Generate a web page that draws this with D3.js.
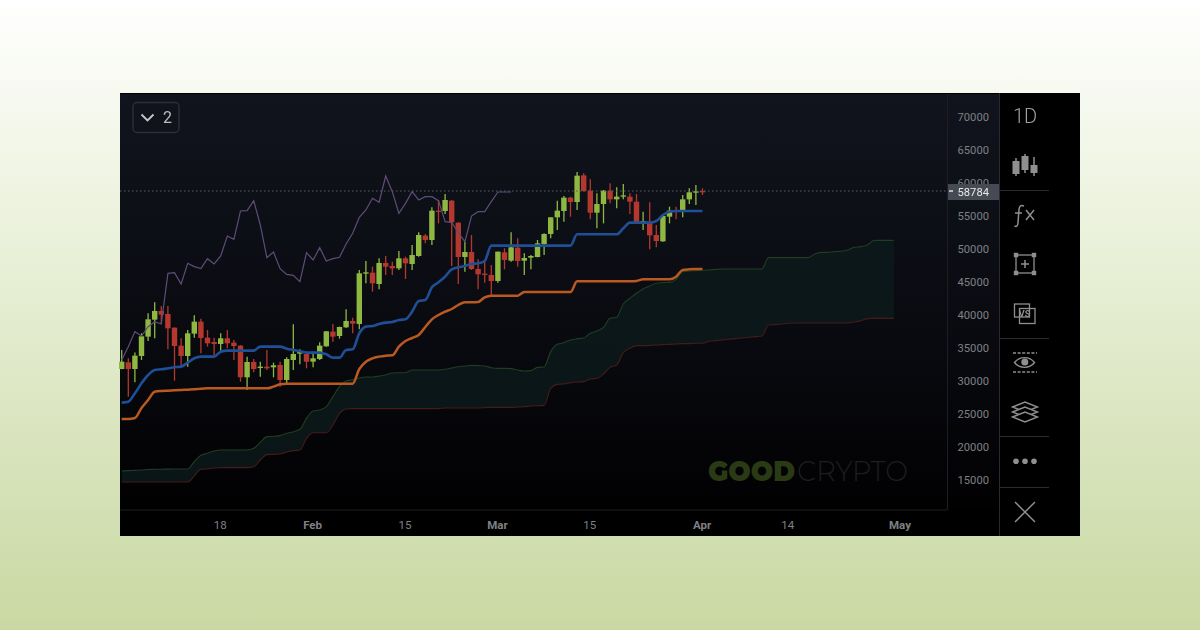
<!DOCTYPE html>
<html><head><meta charset="utf-8">
<script src="https://cdn.jsdelivr.net/npm/d3@7/dist/d3.min.js"></script>
<style>
html,body{margin:0;padding:0;width:1200px;height:630px;overflow:hidden;background:linear-gradient(#ffffff 0%,#e9f0d8 40%,#c9d8a3 100%)}
svg{position:absolute;left:0;top:0;font-family:Roboto,sans-serif;filter:blur(.45px)}
</style></head><body>
<svg id="c" width="1200" height="630"></svg>
<script>
const startDate = "2021-01-03";
const opens = [31820,32830,31820,33790,36720,39295,40610,40155,38080,35355,33790,37175,38990,36570,35910,35610,36470,35810,35355,30560,32880,31970,32175,32075,32430,30155,33185,34145,34090,32930,33335,35255,37480,36820,38135,39095,38640,46265,46415,44700,47880,47425,47070,48585,47730,48940,52020,51365,55810,55760,57325,53990,48790,49545,46970,46265,46065,45155,49495,48235,50205,48235,48690,48790,50760,52275,54800,55760,57780,57120,61160,58840,55505,56820,58840,57525,57930,57930,57170,53990,54140,52120,51160,54900,55810,55810,57525,58535,58790];
const closes = [32930,31820,33840,36770,39345,40610,40050,37980,35305,33790,37225,38990,36520,35710,35610,36470,35710,35305,30560,32880,31820,32175,31920,32375,30155,33335,34090,34400,32930,33440,35355,37530,36720,38185,39095,38690,46315,46465,44800,47880,47325,47070,48585,47830,49090,52120,51365,55810,55655,57425,54040,48790,49545,46970,46165,46165,45155,49600,48335,50255,48185,48635,48940,50860,52275,54800,55810,57780,57120,61110,58790,55505,56820,58840,57525,57930,58130,57170,54040,54245,52070,51210,55000,55810,55710,57525,58585,58740,58585];
const highs = [34700,33440,34300,37220,40255,41920,41365,41365,38130,36470,37730,39950,39450,37730,36570,37225,37730,36215,35455,33690,33335,32930,34700,32780,32930,33590,38590,34800,34400,34450,35860,37580,38640,38235,40860,39600,46820,48185,47325,48590,48940,48080,49700,48840,50610,52525,52275,56315,57425,58335,57425,54040,51110,52120,48435,48080,47575,49600,50100,52525,51620,49345,49090,51365,52375,54800,57325,58030,57930,61665,61465,60555,58435,58940,59950,59345,59850,58435,58335,55655,57070,53635,55000,56415,56415,58180,59190,59700,59190];
const lows = [31770,27630,29800,33185,36060,36470,38740,34800,30050,32325,32175,36570,34195,35205,33890,34600,34950,33185,29900,28640,31315,30660,31670,30560,29145,29650,31670,32530,31920,32075,33185,35205,35960,36420,38035,37225,37830,44800,43535,43890,46060,46060,46820,45455,46820,48840,50860,50610,53890,55305,47425,44700,46565,46820,43890,44900,43030,44900,46920,48080,47325,46065,46920,48740,49090,51620,52880,54140,54900,55910,58690,54495,53130,53890,56920,56160,57525,55305,53990,52880,49950,50255,51110,53890,54495,54800,56820,56670,58180];
const tenkan = [26720,26870,28135,29650,30910,31670,31770,31920,32075,32175,32780,33440,33690,33690,33690,34450,34600,34600,34600,34600,34600,35205,35205,35205,35205,34900,34700,34500,34300,34300,34300,34045,33540,33540,34700,34800,37225,38235,38335,38640,38840,38940,39245,39345,40510,42125,42275,44195,44950,45810,46920,47225,47425,47730,47830,48185,50505,50505,50505,50505,50505,50505,50505,50505,50505,50505,50505,50505,50505,52225,52225,52225,52225,52225,52225,52225,53130,53990,53990,53990,53990,54245,55150,55655,55760,55760,55760,55760,55760];
const kijun = [24240,24240,24390,25910,27120,28380,28490,28540,28590,28640,28690,28740,28840,28890,28890,28890,28890,28890,28890,28890,28890,28890,28890,29145,29500,29600,29600,29600,29600,29600,29600,29600,29600,29600,29600,29600,31820,32930,33440,33690,33840,33890,35205,36060,36515,36970,38180,39345,40000,40510,40910,41515,41920,41920,41970,42680,42930,42930,42930,42930,42930,43485,43485,43485,43485,43485,43485,43485,43485,45100,45100,45100,45100,45100,45100,45100,45100,45100,45150,45405,45405,45405,45405,45405,45810,46820,46920,46970,46970];
const chikou = [33185,35205,37480,36820,38235,38990,38640,46315,46415,44700,47830,47325,47020,48535,47730,48940,51970,51465,55760,55810,57325,53640,48690,49545,47020,46160,46010,45050,49445,48335,50205,48185,48535,48740,50760,52375,54800,55910,57680,57070,61060,58690,55405,56920,58690,57425,57930,57930,57325,54140,54040,52475,51110,54999,55655,55655,57170,58640,58640,58640];
const spanA = [16365,16415,16465,16515,16600,16620,16640,16650,16660,16670,16670,17780,18740,19040,19395,19550,19550,19550,19550,19550,19800,20710,21570,21620,21720,22070,22325,22680,24345,25455,25605,26110,27625,29140,30000,30200,30455,30605,30605,30760,30910,31210,31260,31260,31670,31670,31670,31670,31670,31770,31970,32170,32270,32375,32325,32270,32020,31920,31920,31870,31670,31515,31565,32070,32120,34450,35560,35810,36215,36415,36515,37225,37580,38130,39495,39650,41670,42525,43285,43940,44395,44800,44900,44950,45405,46565,46670,46720,46770,46820,46920,46970,46970,46970,46970,46970,46970,46970,48690,48690,48690,48690,48690,48690,48690,49245,49495,49495,49595,49650,49850,50255,50355,50605,51310,51310,51310,51310];
const spanB = [14700,14700,14700,14700,14700,14700,14700,14700,14700,14700,14700,15610,16620,16670,16820,16870,16870,16870,16870,16870,17020,18030,18840,18890,18940,19240,19445,19550,21315,22170,22170,22170,23335,25100,25760,25810,25810,25810,25810,25810,25810,25810,25810,25810,25810,25810,25810,25810,25810,25910,25910,25910,25910,25910,25910,25960,26010,26010,26010,26010,26060,26110,26210,26260,26310,28890,29495,29550,29750,29850,29900,30305,30405,31060,32070,32425,34295,34950,35355,35355,35405,35455,35505,35555,35610,35660,35660,35710,35710,36010,36115,36215,36315,36415,36520,36620,36720,36820,38490,38540,38640,38740,38790,38790,38790,38790,38790,38790,38790,38790,38790,38940,39145,39445,39495,39495,39495,39495];
const priceTicks = [70000,65000,60000,55000,50000,45000,40000,35000,30000,25000,20000,15000];
const lastPrice = 58784;
const dateTicks = ["2021-01-18","2021-02-01","2021-02-15","2021-03-01","2021-03-15","2021-04-01","2021-04-14","2021-05-01"];
const dateLabels = ["18","Feb","15","Mar","15","Apr","14","May"];
const boldLabels = ["Feb","Mar","Apr","May"];
const menuLabel = "2", timeframe = "1D", logoA = "GOOD", logoB = "CRYPTO";

const svg = d3.select("#c");
const defs = svg.append("defs");
const bg = defs.append("linearGradient").attr("id","bg").attr("x1",0).attr("x2",0).attr("y1",0).attr("y2",1);
bg.append("stop").attr("offset","0%").attr("stop-color","#11141d");
bg.append("stop").attr("offset","55%").attr("stop-color","#0a0b11");
bg.append("stop").attr("offset","100%").attr("stop-color","#010102");

svg.append("rect").attr("x",120).attr("y",93).attr("width",960).attr("height",443).attr("fill","#000");
svg.append("rect").attr("x",120).attr("y",94).attr("width",879).attr("height",416).attr("fill","url(#bg)");

const day = s => d3.utcParse("%Y-%m-%d")(s);
const t0 = day(startDate);
const dateAt = i => d3.utcDay.offset(t0,i);
const x = d3.scaleUtc().domain([t0,day("2021-05-01")]).range([121.7,900.5]);
const y = d3.scaleLinear().domain([15000,70000]).range([480,117]);

// cloud
const gC = svg.append("g");
gC.append("path").datum(spanA).attr("fill","#0c1a1b").attr("fill-opacity",.8)
  .attr("d",d3.area().x((d,i)=>x(dateAt(i))).y0((d,i)=>y(spanB[i])).y1(d=>y(d)));
const ln = d3.line().x((d,i)=>x(dateAt(i))).y(d=>y(d)).curve(d3.curveMonotoneX);
gC.append("path").datum(spanA).attr("fill","none").attr("stroke","#1f3e20").attr("stroke-width",1.1).attr("d",ln);
gC.append("path").datum(spanB).attr("fill","none").attr("stroke","#451c18").attr("stroke-width",1.1).attr("d",ln);

// candles
const up = "#8fb843", dn = "#b5382e";
const gK = svg.append("g");
const idx = d3.range(opens.length);
gK.selectAll("line").data(idx).join("line")
  .attr("x1",i=>x(dateAt(i))).attr("x2",i=>x(dateAt(i)))
  .attr("y1",i=>y(highs[i])).attr("y2",i=>y(lows[i]))
  .attr("stroke",i=>closes[i]>=opens[i]?up:dn).attr("stroke-width",1.3);
gK.selectAll("rect").data(idx).join("rect")
  .attr("x",i=>x(dateAt(i))-2.7).attr("width",5.4)
  .attr("y",i=>y(Math.max(opens[i],closes[i])))
  .attr("height",i=>Math.max(1.3,Math.abs(y(opens[i])-y(closes[i]))))
  .attr("fill",i=>closes[i]>=opens[i]?up:dn);

// lines
svg.append("path").datum(chikou).attr("fill","none").attr("stroke","#5f4c78").attr("stroke-width",1.2)
  .attr("d",d3.line().x((d,i)=>x(dateAt(i))).y(d=>y(d)));
svg.append("path").datum(kijun).attr("fill","none").attr("stroke","#bb5a20").attr("stroke-width",2.5).attr("d",ln);
svg.append("path").datum(tenkan).attr("fill","none").attr("stroke","#1f4f96").attr("stroke-width",2.6).attr("d",ln);

// logo
const lg = svg.append("g").attr("font-family","Montserrat,Lato,sans-serif").attr("font-size",29);
lg.append("text").attr("x",708).attr("y",481).attr("font-weight",900).attr("fill","#2a3a14").attr("textLength",87).attr("lengthAdjust","spacingAndGlyphs").text(logoA);
lg.append("text").attr("x",797).attr("y",481).attr("font-weight",300).attr("fill","#1d1e20").attr("textLength",111).attr("lengthAdjust","spacingAndGlyphs").text(logoB);

// frame lines
const frame = [[120,510,947,510],[947.5,94,947.5,510]];
svg.append("g").selectAll("line").data(frame).join("line")
  .attr("x1",d=>d[0]).attr("y1",d=>d[1]).attr("x2",d=>d[2]).attr("y2",d=>d[3]).attr("stroke","#1c1e23");

// price axis
const ay = svg.append("g").attr("transform","translate(989,0)")
  .call(d3.axisLeft(y).tickValues(priceTicks).tickSize(0).tickPadding(0).tickFormat(d3.format("d")));
ay.select(".domain").remove();
ay.selectAll("text").attr("fill","#7f8185").attr("font-size",11.2).attr("font-family","Roboto,sans-serif");

// date axis
const ax = svg.append("g").attr("transform","translate(-1,521)")
  .call(d3.axisBottom(x).tickValues(dateTicks.map(day)).tickSize(0).tickPadding(0).tickFormat((d,i)=>dateLabels[i]));
ax.select(".domain").remove();
ax.selectAll("text").attr("fill","#7f8185").attr("font-size",11.5).attr("font-family","Roboto,sans-serif")
  .attr("font-weight",(d,i)=>boldLabels.includes(dateLabels[i])?700:400);

// last price
svg.append("line").attr("x1",120).attr("x2",948).attr("y1",y(lastPrice)).attr("y2",y(lastPrice))
  .attr("stroke","#5c5f66").attr("stroke-width",1).attr("stroke-dasharray","1.5 2.5");
svg.append("rect").attr("x",948).attr("y",y(lastPrice)-7).attr("width",51).attr("height",16).attr("fill","#464a54");
svg.append("rect").attr("x",949).attr("y",y(lastPrice)-.7).attr("width",4).attr("height",1.4).attr("fill","#e6e6e6");
svg.append("text").attr("x",989).attr("y",y(lastPrice)+4.5).attr("text-anchor","end").attr("font-size",11.2).attr("fill","#e8e8e8").text(d3.format("d")(lastPrice));

// menu button
svg.append("rect").attr("x",133).attr("y",102.5).attr("width",46).attr("height",30).attr("rx",4).attr("fill","none").attr("stroke","#2c2f38").attr("stroke-width",1.4);
svg.append("path").attr("d","M141.5 114.5l6 6l6-6").attr("fill","none").attr("stroke","#c8c8c8").attr("stroke-width",1.8);
svg.append("text").attr("x",163).attr("y",123).attr("font-size",16).attr("fill","#bdbdbd").text(menuLabel);

// toolbar
const ic = "#8f8f8f";
const tb = svg.append("g");
tb.append("line").attr("x1",999.5).attr("x2",999.5).attr("y1",93).attr("y2",536).attr("stroke","#2a2a2c");
tb.selectAll(".sep").data([191,339,437,488]).join("line").attr("class","sep")
  .attr("x1",1000).attr("x2",1049).attr("y1",d=>d-.5).attr("y2",d=>d-.5).attr("stroke","#2c2c2e");
tb.append("text").attr("x",1025).attr("y",123).attr("text-anchor","middle").attr("font-size",20).attr("font-weight",300).attr("fill","#a0a0a0").text(timeframe);
// candles icon
const ci=[[1016,158,176,161,174],[1025,154,173,156,170],[1034,157,176,165,173]];
ci.forEach(c=>{tb.append("line").attr("x1",c[0]).attr("x2",c[0]).attr("y1",c[1]).attr("y2",c[2]).attr("stroke",ic).attr("stroke-width",1.5);
 tb.append("rect").attr("x",c[0]-3.5).attr("y",c[3]).attr("width",7).attr("height",c[4]-c[3]).attr("fill",ic);});
// fx
tb.append("path").attr("d","M1024 206c-3-1.5-4.5 0-5 3l-1 14c-.3 3-1.5 4-3.5 3M1015 213h7").attr("fill","none").attr("stroke",ic).attr("stroke-width",1.5);
tb.append("path").attr("d","M1026 210l8 10M1034 210l-8 10").attr("fill","none").attr("stroke",ic).attr("stroke-width",1.5);
// box
tb.append("rect").attr("x",1016).attr("y",255).attr("width",18).attr("height",18).attr("fill","none").attr("stroke",ic).attr("stroke-width",1.3);
[[1016,255],[1034,255],[1016,273],[1034,273]].forEach(p=>tb.append("rect").attr("x",p[0]-2.2).attr("y",p[1]-2.2).attr("width",4.4).attr("height",4.4).attr("fill",ic));
tb.append("path").attr("d","M1025 260v8M1021 264h8").attr("stroke",ic).attr("stroke-width",1.5);
// vs
tb.append("rect").attr("x",1014.5).attr("y",304).attr("width",15).attr("height",13).attr("fill","none").attr("stroke",ic).attr("stroke-width",1.3);
tb.append("rect").attr("x",1019.5).attr("y",308.5).attr("width",15.5).attr("height",15).attr("fill","none").attr("stroke",ic).attr("stroke-width",1.3);
tb.append("text").attr("x",1024.5).attr("y",317).attr("text-anchor","middle").attr("font-size",9).attr("font-weight",700).attr("fill",ic).text("VS");
// eye
tb.append("path").attr("d","M1013 353h24M1013 372h24").attr("stroke",ic).attr("stroke-width",1.5).attr("stroke-dasharray","3 1.6");
tb.append("path").attr("d","M1014.5 362.5c5-6.5 15-6.5 20 0c-5 6.5-15 6.5-20 0z").attr("fill","none").attr("stroke",ic).attr("stroke-width",1.4);
tb.append("circle").attr("cx",1024.8).attr("cy",362).attr("r",3.5).attr("fill",ic);
// layers
[0,5,10].forEach(dy=>tb.append("path").attr("d",`M1012.5 ${407+dy}l12.5-5l12.5 5l-12.5 5z`).attr("fill","#000").attr("stroke",ic).attr("stroke-width",1.4));
// dots
tb.selectAll(".dot").data([1016,1025,1034]).join("circle").attr("class","dot").attr("cx",d=>d).attr("cy",461.3).attr("r",2.8).attr("fill",ic);
// close
tb.append("path").attr("d","M1015 502l20 20M1035 502l-20 20").attr("stroke",ic).attr("stroke-width",1.5);
</script></body></html>
